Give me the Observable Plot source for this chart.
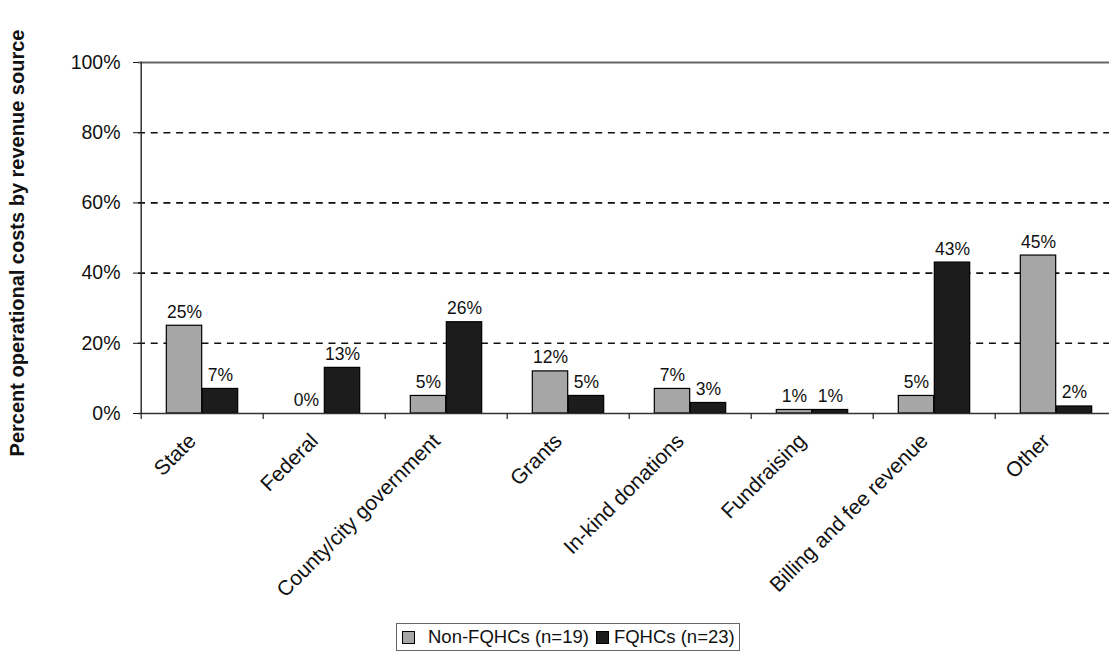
<!DOCTYPE html>
<html>
<head>
<meta charset="utf-8">
<script src="https://cdn.jsdelivr.net/npm/d3@7"></script>
<script src="https://cdn.jsdelivr.net/npm/@observablehq/plot@0.6"></script>
<style>
  html, body { margin: 0; padding: 0; background: #fff; }
  #wrap { position: relative; width: 1109px; height: 656px; overflow: hidden; font-family: "Liberation Sans", Arial, sans-serif; }
  #legend { position: absolute; left: 396px; top: 623px; height: 26px; padding: 0 4px 0 4px; border: 1px solid #666; display: flex; align-items: center; font-size: 18.5px; color: #111; white-space: nowrap; }
  #legend .sw { width: 11px; height: 11px; border: 1px solid #000; display: inline-block; margin: 0 13px 0 1px; }
</style>
</head>
<body>
<div id="wrap"></div>
<script>
const categories = ["State", "Federal", "County/city government", "Grants", "In-kind donations", "Fundraising", "Billing and fee revenue", "Other"];
const nonFqhc = [25, 0, 5, 12, 7, 1, 5, 45];
const fqhc = [7, 13, 26, 5, 3, 1, 43, 2];
const yTicks = [0, 20, 40, 60, 80, 100];
const gridValues = [20, 40, 60, 80];
const seriesNames = ["Non-FQHCs (n=19)", "FQHCs (n=23)"];
const seriesColors = ["#a6a6a6", "#1c1c1c"];
const yTitle = "Percent operational costs by revenue source";

const data = categories.map((c, i) => ({category: c, non: nonFqhc[i], fq: fqhc[i]}));

const left = 138, right = 1119;
const half = (right - left) / categories.length / 2;

const chart = Plot.plot({
  width: 1109,
  height: 615,
  marginLeft: left,
  marginRight: 0,
  marginTop: 62,
  marginBottom: 202,
  style: {fontFamily: "'Liberation Sans', Arial, sans-serif", fontSize: "17px", color: "#111", background: "#fff"},
  x: {domain: categories, range: [left, right], padding: 0, axis: null},
  y: {domain: [0, 100], axis: null},
  marks: [
    Plot.ruleY(gridValues, {stroke: "#111", strokeWidth: 1.6, strokeDasharray: "7,5.7"}),
    Plot.ruleY([100], {stroke: "#666", strokeWidth: 2}),
    Plot.barY(data, {x: "category", y: "non", fill: seriesColors[0], stroke: "#000", strokeWidth: 1.2, insetLeft: half - 36, insetRight: half}),
    Plot.barY(data, {x: "category", y: "fq", fill: seriesColors[1], stroke: "#000", strokeWidth: 1.2, insetLeft: half, insetRight: half - 36}),
    Plot.ruleY([0], {stroke: "#333", strokeWidth: 1.6}),
    Plot.ruleX([categories[0]], {dx: -half, y1: 0, y2: 100, stroke: "#222", strokeWidth: 1.4}),
    Plot.ruleX(categories, {x: d => d, dx: -half, y1: 0, y2: -1.7, stroke: "#222", strokeWidth: 1.2}),
    Plot.text(data, {x: "category", y: "non", text: d => d.non + "%", dx: -18, dy: -8, lineAnchor: "bottom", fontSize: 17.5, fill: "#111"}),
    Plot.text(data, {x: "category", y: "fq", text: d => d.fq + "%", dx: 18, dy: -8, lineAnchor: "bottom", fontSize: 17.5, fill: "#111"}),
    Plot.text(categories, {x: d => d, y: 0, text: d => d, rotate: -45, textAnchor: "end", dx: -10, dy: 24, fontSize: 21, fill: "#111"}),
    Plot.axisY({ticks: yTicks, tickFormat: d => d + "%", tickSize: 5, tickPadding: 13, fontSize: 19.5, label: null}),
    Plot.text([yTitle], {text: d => d, frameAnchor: "left", textAnchor: "middle", dx: -121, dy: 5, rotate: -90, fontWeight: "bold", fontSize: 20, fill: "#111"})
  ]
});

const wrap = document.getElementById("wrap");
wrap.appendChild(chart);

const legend = document.createElement("div");
legend.id = "legend";
seriesNames.forEach((name, i) => {
  const sw = document.createElement("span");
  sw.className = "sw";
  sw.style.background = seriesColors[i];
  if (i > 0) { sw.style.marginLeft = "7px"; sw.style.marginRight = "5px"; }
  legend.appendChild(sw);
  const t = document.createElement("span");
  t.textContent = name;
  legend.appendChild(t);
});
wrap.appendChild(legend);
</script>
</body>
</html>
